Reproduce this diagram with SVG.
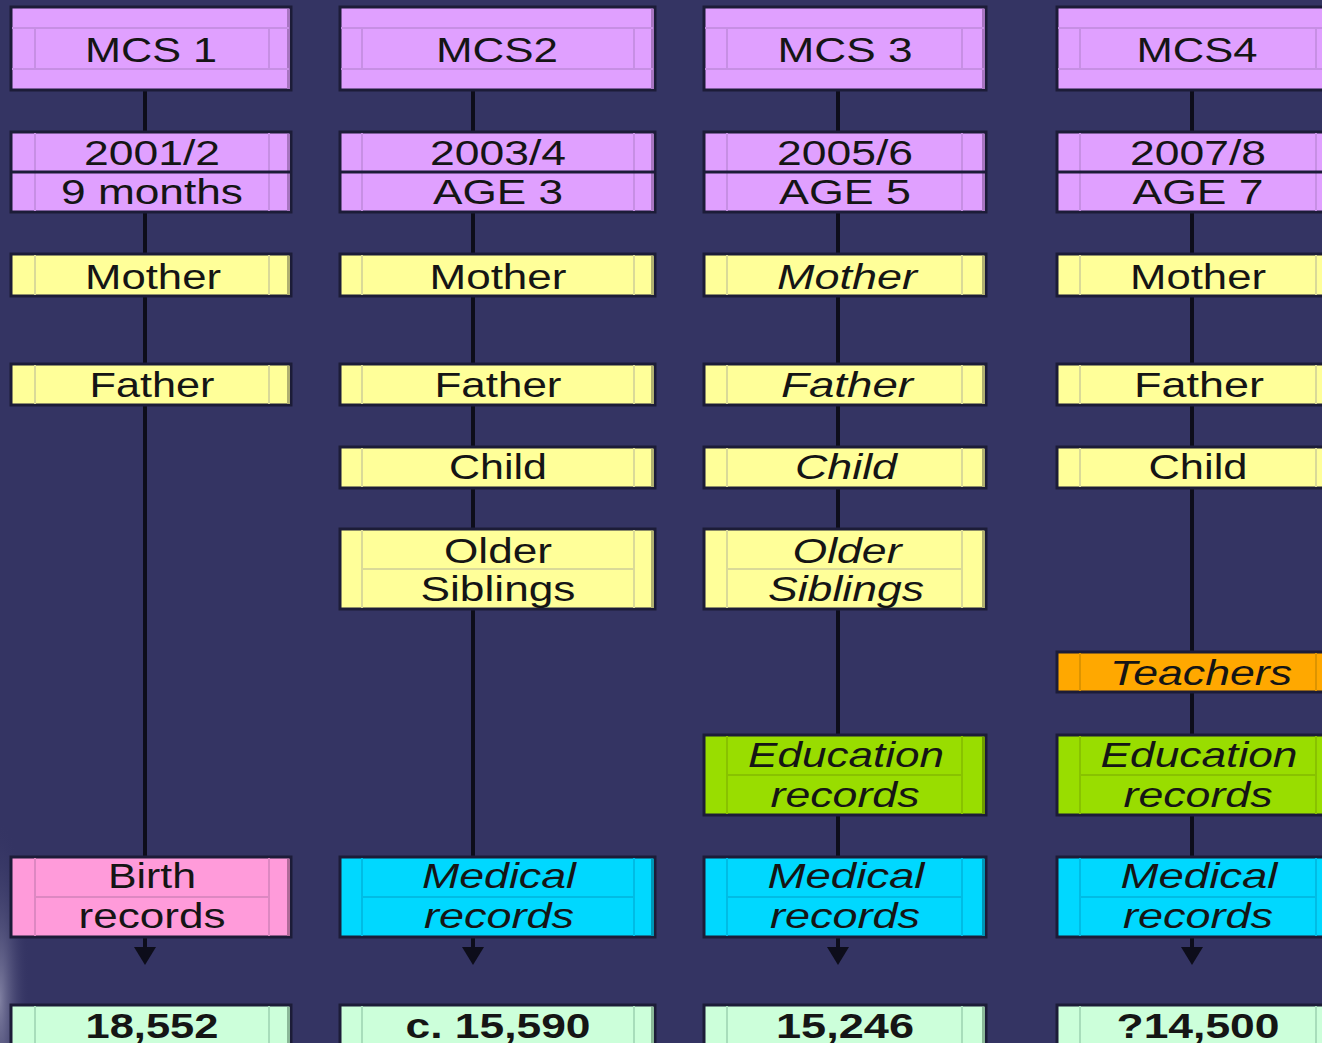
<svg xmlns="http://www.w3.org/2000/svg" width="1322" height="1043" viewBox="0 0 1322 1043">
<defs>
<style>
.t{font-family:"Liberation Sans",Arial,sans-serif;font-size:35px;fill:#151515;text-anchor:middle}
.i{font-style:italic}
.b{font-weight:bold}
.bx{stroke:#1c1c38;stroke-width:3}
.pu{fill:#E0A0FF}.ye{fill:#FFFF99}.or{fill:#FFA800}.gr{fill:#99DD00}.cy{fill:#00D8FF}.pk{fill:#FF9BDA}.lg{fill:#CCFFDA}
.lpu{stroke:#C78FE4}.lye{stroke:#DADA98}.lor{stroke:#DD9400}.lgr{stroke:#88C200}.lcy{stroke:#00BCE4}.lpk{stroke:#DD88C2}.llg{stroke:#A8DDBB}
.in{stroke-width:2;fill:none}
.dv{stroke:#1c1c38;stroke-width:3}
.rpu{fill:#A775C0}.rye{fill:#B0B070}.ror{fill:#B07500}.rgr{fill:#6E9A00}.rcy{fill:#0095B5}.rpk{fill:#B06A98}.rlg{fill:#8AB898}
.cn{stroke:#0d0d1a;stroke-width:4;fill:none}
</style>
<marker id="ah" viewBox="0 0 18 22" refX="13" refY="11" markerWidth="18" markerHeight="22" markerUnits="userSpaceOnUse" orient="auto">
<path d="M0,0 L18,11 L0,22 z" fill="#0d0d1a"/>
</marker>
<radialGradient id="vg" cx="0" cy="1000" r="60" fx="0" fy="1000" gradientUnits="userSpaceOnUse" gradientTransform="translate(0,1000) scale(0.5,3) translate(0,-1000)">
<stop offset="0" stop-color="#a0a0bc" stop-opacity="0.7"/>
<stop offset="1" stop-color="#343463" stop-opacity="0"/>
</radialGradient>
</defs>
<rect width="1322" height="1043" fill="#343463"/>
<rect x="0" y="800" width="40" height="243" fill="url(#vg)"/>

<g id="connectors">
<line class="cn" x1="145" y1="90" x2="145" y2="960" marker-end="url(#ah)"/>
<line class="cn" x1="473" y1="90" x2="473" y2="960" marker-end="url(#ah)"/>
<line class="cn" x1="838" y1="90" x2="838" y2="960" marker-end="url(#ah)"/>
<line class="cn" x1="1192" y1="90" x2="1192" y2="960" marker-end="url(#ah)"/>
</g>

<!-- Column 1 -->
<g id="mcs1">
<rect class="bx pu" x="11" y="7" width="280" height="83"/><rect class="rpu" x="287" y="9" width="3" height="80"/>
<path class="in lpu" d="M12,28H289M12,69H289M35,28V69M269,28V69"/>
<text class="t" x="151" y="62" textLength="132" lengthAdjust="spacingAndGlyphs">MCS 1</text>
</g>
<g id="date1">
<rect class="bx pu" x="11" y="132" width="280" height="80"/><rect class="rpu" x="287" y="134" width="3" height="77"/>
<path class="in lpu" d="M35,133V211M269,133V211"/><path class="dv" d="M11,172H291"/>
<text class="t" x="152" y="165" textLength="136" lengthAdjust="spacingAndGlyphs">2001/2</text>
<text class="t" x="152" y="204" textLength="182" lengthAdjust="spacingAndGlyphs">9 months</text>
</g>
<g id="mother1">
<rect class="bx ye" x="11" y="254" width="280" height="42"/><rect class="rye" x="287" y="256" width="3" height="39"/>
<path class="in lye" d="M35,255V295M269,255V295"/>
<text class="t" x="153" y="289" textLength="136" lengthAdjust="spacingAndGlyphs">Mother</text>
</g>
<g id="father1">
<rect class="bx ye" x="11" y="364" width="280" height="41"/><rect class="rye" x="287" y="366" width="3" height="38"/>
<path class="in lye" d="M35,365V404M269,365V404"/>
<text class="t" x="152" y="397" textLength="125" lengthAdjust="spacingAndGlyphs">Father</text>
</g>
<g id="birth1">
<rect class="bx pk" x="11" y="857" width="280" height="80"/><rect class="rpk" x="287" y="859" width="3" height="77"/>
<path class="in lpk" d="M35,858V936M269,858V936M35,897H269"/>
<text class="t" x="152" y="888" textLength="88" lengthAdjust="spacingAndGlyphs">Birth</text>
<text class="t" x="152" y="928" textLength="147" lengthAdjust="spacingAndGlyphs">records</text>
</g>
<g id="count1">
<rect class="bx lg" x="11" y="1005" width="280" height="50"/><rect class="rlg" x="287" y="1007" width="3" height="40"/>
<path class="in llg" d="M35,1006V1043M269,1006V1043"/>
<text class="t b" x="152" y="1038" textLength="133" lengthAdjust="spacingAndGlyphs">18,552</text>
</g>

<!-- Column 2 -->
<g id="mcs2">
<rect class="bx pu" x="340" y="7" width="315" height="83"/><rect class="rpu" x="651" y="9" width="3" height="80"/>
<path class="in lpu" d="M341,28H653M341,69H653M362,28V69M634,28V69"/>
<text class="t" x="497" y="62" textLength="122" lengthAdjust="spacingAndGlyphs">MCS2</text>
</g>
<g id="date2">
<rect class="bx pu" x="340" y="132" width="315" height="80"/><rect class="rpu" x="651" y="134" width="3" height="77"/>
<path class="in lpu" d="M362,133V211M634,133V211"/><path class="dv" d="M340,172H655"/>
<text class="t" x="498" y="165" textLength="136" lengthAdjust="spacingAndGlyphs">2003/4</text>
<text class="t" x="498" y="204" textLength="130" lengthAdjust="spacingAndGlyphs">AGE 3</text>
</g>
<g id="mother2">
<rect class="bx ye" x="340" y="254" width="315" height="42"/><rect class="rye" x="651" y="256" width="3" height="39"/>
<path class="in lye" d="M362,255V295M634,255V295"/>
<text class="t" x="498" y="289" textLength="137" lengthAdjust="spacingAndGlyphs">Mother</text>
</g>
<g id="father2">
<rect class="bx ye" x="340" y="364" width="315" height="41"/><rect class="rye" x="651" y="366" width="3" height="38"/>
<path class="in lye" d="M362,365V404M634,365V404"/>
<text class="t" x="498" y="397" textLength="127" lengthAdjust="spacingAndGlyphs">Father</text>
</g>
<g id="child2">
<rect class="bx ye" x="340" y="447" width="315" height="41"/><rect class="rye" x="651" y="449" width="3" height="38"/>
<path class="in lye" d="M362,448V487M634,448V487"/>
<text class="t" x="498" y="479" textLength="98" lengthAdjust="spacingAndGlyphs">Child</text>
</g>
<g id="siblings2">
<rect class="bx ye" x="340" y="529" width="315" height="80"/><rect class="rye" x="651" y="531" width="3" height="77"/>
<path class="in lye" d="M362,530V608M634,530V608M362,569H634"/>
<text class="t" x="498" y="563" textLength="108" lengthAdjust="spacingAndGlyphs">Older</text>
<text class="t" x="498" y="601" textLength="155" lengthAdjust="spacingAndGlyphs">Siblings</text>
</g>
<g id="medical2">
<rect class="bx cy" x="340" y="857" width="315" height="80"/><rect class="rcy" x="651" y="859" width="3" height="77"/>
<path class="in lcy" d="M362,858V936M634,858V936M362,897H634"/>
<text class="t i" x="499" y="888" textLength="154" lengthAdjust="spacingAndGlyphs">Medical</text>
<text class="t i" x="499" y="928" textLength="150" lengthAdjust="spacingAndGlyphs">records</text>
</g>
<g id="count2">
<rect class="bx lg" x="340" y="1005" width="315" height="50"/><rect class="rlg" x="651" y="1007" width="3" height="40"/>
<path class="in llg" d="M362,1006V1043M634,1006V1043"/>
<text class="t b" x="498" y="1038" textLength="185" lengthAdjust="spacingAndGlyphs">c. 15,590</text>
</g>

<!-- Column 3 -->
<g id="mcs3">
<rect class="bx pu" x="704" y="7" width="282" height="83"/><rect class="rpu" x="982" y="9" width="3" height="80"/>
<path class="in lpu" d="M705,28H984M705,69H984M727,28V69M962,28V69"/>
<text class="t" x="845" y="62" textLength="135" lengthAdjust="spacingAndGlyphs">MCS 3</text>
</g>
<g id="date3">
<rect class="bx pu" x="704" y="132" width="282" height="80"/><rect class="rpu" x="982" y="134" width="3" height="77"/>
<path class="in lpu" d="M727,133V211M962,133V211"/><path class="dv" d="M704,172H986"/>
<text class="t" x="845" y="165" textLength="136" lengthAdjust="spacingAndGlyphs">2005/6</text>
<text class="t" x="845" y="204" textLength="132" lengthAdjust="spacingAndGlyphs">AGE 5</text>
</g>
<g id="mother3">
<rect class="bx ye" x="704" y="254" width="282" height="42"/><rect class="rye" x="982" y="256" width="3" height="39"/>
<path class="in lye" d="M727,255V295M962,255V295"/>
<text class="t i" x="847" y="289" textLength="140" lengthAdjust="spacingAndGlyphs">Mother</text>
</g>
<g id="father3">
<rect class="bx ye" x="704" y="364" width="282" height="41"/><rect class="rye" x="982" y="366" width="3" height="38"/>
<path class="in lye" d="M727,365V404M962,365V404"/>
<text class="t i" x="847" y="397" textLength="132" lengthAdjust="spacingAndGlyphs">Father</text>
</g>
<g id="child3">
<rect class="bx ye" x="704" y="447" width="282" height="41"/><rect class="rye" x="982" y="449" width="3" height="38"/>
<path class="in lye" d="M727,448V487M962,448V487"/>
<text class="t i" x="846" y="479" textLength="102" lengthAdjust="spacingAndGlyphs">Child</text>
</g>
<g id="siblings3">
<rect class="bx ye" x="704" y="529" width="282" height="80"/><rect class="rye" x="982" y="531" width="3" height="77"/>
<path class="in lye" d="M727,530V608M962,530V608M727,569H962"/>
<text class="t i" x="847" y="563" textLength="109" lengthAdjust="spacingAndGlyphs">Older</text>
<text class="t i" x="846" y="601" textLength="156" lengthAdjust="spacingAndGlyphs">Siblings</text>
</g>
<g id="education3">
<rect class="bx gr" x="704" y="735" width="282" height="80"/><rect class="rgr" x="982" y="737" width="3" height="77"/>
<path class="in lgr" d="M727,736V814M962,736V814M727,775H962"/>
<text class="t i" x="846" y="767" textLength="196" lengthAdjust="spacingAndGlyphs">Education</text>
<text class="t i" x="845" y="807" textLength="149" lengthAdjust="spacingAndGlyphs">records</text>
</g>
<g id="medical3">
<rect class="bx cy" x="704" y="857" width="282" height="80"/><rect class="rcy" x="982" y="859" width="3" height="77"/>
<path class="in lcy" d="M727,858V936M962,858V936M727,897H962"/>
<text class="t i" x="846" y="888" textLength="157" lengthAdjust="spacingAndGlyphs">Medical</text>
<text class="t i" x="845" y="928" textLength="150" lengthAdjust="spacingAndGlyphs">records</text>
</g>
<g id="count3">
<rect class="bx lg" x="704" y="1005" width="282" height="50"/><rect class="rlg" x="982" y="1007" width="3" height="40"/>
<path class="in llg" d="M727,1006V1043M962,1006V1043"/>
<text class="t b" x="845" y="1038" textLength="138" lengthAdjust="spacingAndGlyphs">15,246</text>
</g>

<!-- Column 4 -->
<g id="mcs4">
<rect class="bx pu" x="1057" y="7" width="283" height="83"/>
<path class="in lpu" d="M1058,28H1322M1058,69H1322M1080,28V69M1316,28V69"/>
<text class="t" x="1197" y="62" textLength="121" lengthAdjust="spacingAndGlyphs">MCS4</text>
</g>
<g id="date4">
<rect class="bx pu" x="1057" y="132" width="283" height="80"/>
<path class="in lpu" d="M1080,133V211M1316,133V211"/><path class="dv" d="M1057,172H1322"/>
<text class="t" x="1198" y="165" textLength="136" lengthAdjust="spacingAndGlyphs">2007/8</text>
<text class="t" x="1198" y="204" textLength="131" lengthAdjust="spacingAndGlyphs">AGE 7</text>
</g>
<g id="mother4">
<rect class="bx ye" x="1057" y="254" width="283" height="42"/>
<path class="in lye" d="M1080,255V295M1316,255V295"/>
<text class="t" x="1198" y="289" textLength="136" lengthAdjust="spacingAndGlyphs">Mother</text>
</g>
<g id="father4">
<rect class="bx ye" x="1057" y="364" width="283" height="41"/>
<path class="in lye" d="M1080,365V404M1316,365V404"/>
<text class="t" x="1199" y="397" textLength="130" lengthAdjust="spacingAndGlyphs">Father</text>
</g>
<g id="child4">
<rect class="bx ye" x="1057" y="447" width="283" height="41"/>
<path class="in lye" d="M1080,448V487M1316,448V487"/>
<text class="t" x="1198" y="479" textLength="99" lengthAdjust="spacingAndGlyphs">Child</text>
</g>
<g id="teachers4">
<rect class="bx or" x="1057" y="652" width="283" height="40"/>
<path class="in lor" d="M1080,653V691M1316,653V691"/>
<text class="t i" x="1201" y="685" textLength="182" lengthAdjust="spacingAndGlyphs">Teachers</text>
</g>
<g id="education4">
<rect class="bx gr" x="1057" y="735" width="283" height="80"/>
<path class="in lgr" d="M1080,736V814M1316,736V814M1080,775H1316"/>
<text class="t i" x="1199" y="767" textLength="197" lengthAdjust="spacingAndGlyphs">Education</text>
<text class="t i" x="1198" y="807" textLength="149" lengthAdjust="spacingAndGlyphs">records</text>
</g>
<g id="medical4">
<rect class="bx cy" x="1057" y="857" width="283" height="80"/>
<path class="in lcy" d="M1080,858V936M1316,858V936M1080,897H1316"/>
<text class="t i" x="1199" y="888" textLength="157" lengthAdjust="spacingAndGlyphs">Medical</text>
<text class="t i" x="1198" y="928" textLength="150" lengthAdjust="spacingAndGlyphs">records</text>
</g>
<g id="count4">
<rect class="bx lg" x="1057" y="1005" width="283" height="50"/>
<path class="in llg" d="M1080,1006V1043M1316,1006V1043"/>
<text class="t b" x="1198" y="1038" textLength="163" lengthAdjust="spacingAndGlyphs">?14,500</text>
</g>
</svg>
